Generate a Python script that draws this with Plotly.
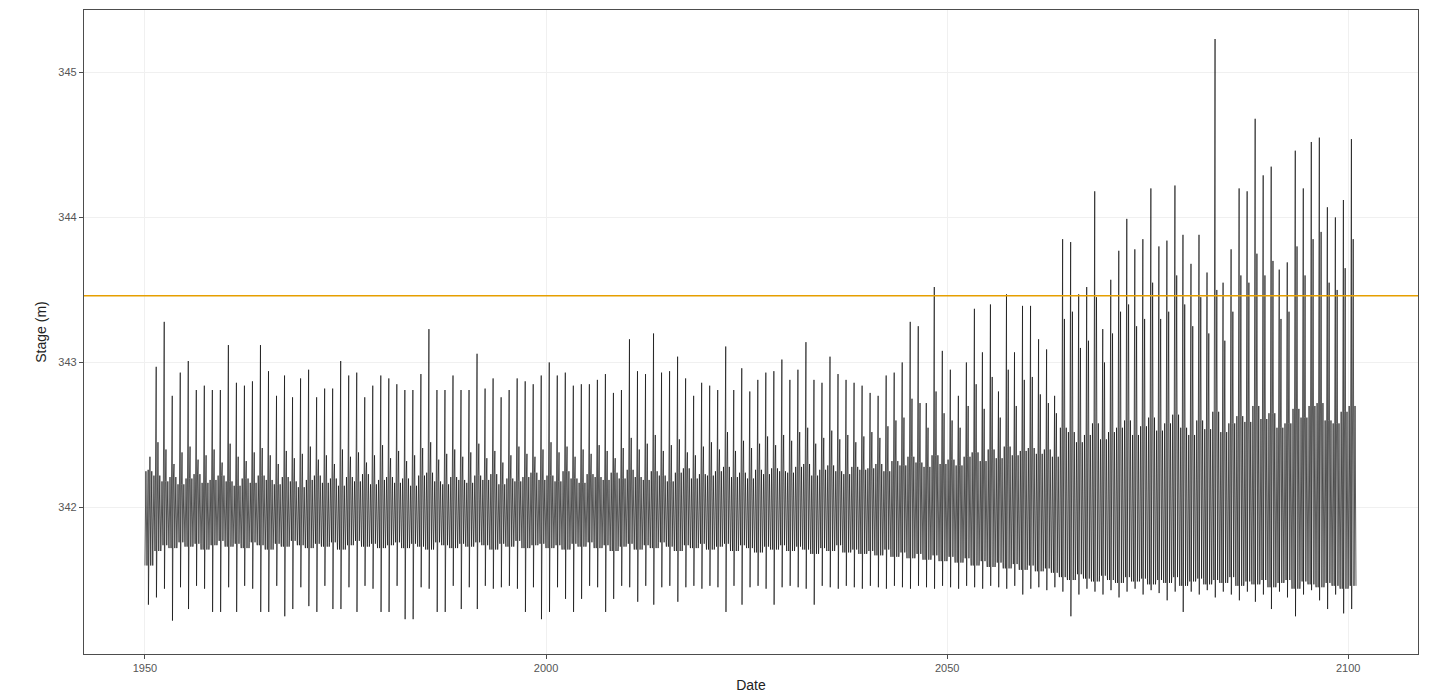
import plotly.graph_objects as go

# ---------------- data ----------------
years = list(range(1950, 2101))

# annual maximum stage (m)
peak = [
    342.26, 342.97, 343.28, 342.77, 342.93, 343.01, 342.81, 342.84, 342.81, 342.81,
    343.12, 342.86, 342.84, 342.87, 343.12, 342.94, 342.77, 342.91, 342.76, 342.89,
    342.95, 342.76, 342.82, 342.82, 343.01, 342.91, 342.93, 342.76, 342.84, 342.91,
    342.89, 342.85, 342.81, 342.81, 342.92, 343.23, 342.81, 342.81, 342.91, 342.81,
    342.81, 343.06, 342.82, 342.89, 342.76, 342.81, 342.89, 342.87, 342.85, 342.91,
    343.00, 342.91, 342.93, 342.84, 342.85, 342.85, 342.88, 342.92, 342.79, 342.81,
    343.16, 342.94, 342.92, 343.20, 342.93, 342.94, 343.04, 342.89, 342.77, 342.86,
    342.84, 342.81, 343.11, 342.81, 342.96, 342.80, 342.88, 342.93, 342.94, 343.02,
    342.88, 342.95, 343.14, 342.88, 342.86, 343.04, 342.92, 342.88, 342.86, 342.84,
    342.79, 342.77, 342.91, 342.93, 343.00, 343.28, 343.25, 342.72, 343.52, 343.08,
    342.95, 342.77, 343.00, 343.37, 343.07, 343.40, 342.80, 343.47, 343.07, 343.39,
    343.39, 343.16, 343.09, 342.77, 343.85, 343.83, 343.47, 343.52, 344.18, 343.23,
    343.57, 343.77, 343.99, 343.78, 343.85, 344.20, 343.80, 343.84, 344.22, 343.88,
    343.68, 343.88, 343.62, 345.23, 343.55, 343.78, 344.20, 344.18, 344.68, 344.29,
    344.35, 343.64, 343.69, 344.46, 344.20, 344.52, 344.55, 344.07, 344.00, 344.12,
    344.54,
]

# secondary (smaller) high of each year (m)
second_peak = [
    342.35, 342.45, 342.40, 342.30, 342.38, 342.42, 342.33, 342.36, 342.40, 342.31,
    342.44, 342.35, 342.32, 342.38, 342.41, 342.36, 342.30, 342.39, 342.34, 342.37,
    342.42, 342.33, 342.36, 342.30, 342.40, 342.35, 342.38, 342.31, 342.36, 342.43,
    342.34, 342.39, 342.32, 342.36, 342.41, 342.45, 342.33, 342.37, 342.40, 342.35,
    342.38, 342.44, 342.34, 342.39, 342.31, 342.36, 342.42, 342.37, 342.35, 342.40,
    342.45, 342.38, 342.42, 342.35, 342.40, 342.37, 342.43, 342.39, 342.34, 342.41,
    342.48, 342.40, 342.44, 342.50, 342.39, 342.43, 342.47, 342.38, 342.36, 342.42,
    342.45, 342.40, 342.52, 342.39, 342.46, 342.41, 342.44, 342.49, 342.43, 342.50,
    342.46, 342.52, 342.55, 342.44, 342.48, 342.53, 342.47, 342.50, 342.45, 342.49,
    342.52, 342.48, 342.56, 342.60, 342.62, 342.75, 342.72, 342.55, 342.80, 342.65,
    342.60, 342.55, 342.70, 342.85, 342.68, 342.90, 342.62, 342.95, 342.70, 342.88,
    342.90, 342.78, 342.72, 342.65, 343.30, 343.35, 343.10, 343.15, 343.45, 343.00,
    343.20, 343.35, 343.40, 343.25, 343.30, 343.55, 343.30, 343.35, 343.60, 343.40,
    343.25, 343.45, 343.20, 343.50, 343.15, 343.35, 343.60, 343.55, 343.75, 343.60,
    343.70, 343.30, 343.35, 343.80, 343.60, 343.85, 343.90, 343.55, 343.50, 343.65,
    343.85,
]

# annual minimum stage (m)
trough = [
    341.33, 341.38, 341.44, 341.22, 341.45, 341.30, 341.46, 341.44, 341.28, 341.28,
    341.45, 341.28, 341.46, 341.44, 341.28, 341.28, 341.46, 341.25, 341.30, 341.45,
    341.32, 341.28, 341.46, 341.30, 341.30, 341.45, 341.28, 341.46, 341.44, 341.28,
    341.28, 341.46, 341.23, 341.23, 341.45, 341.44, 341.28, 341.28, 341.46, 341.30,
    341.45, 341.30, 341.46, 341.44, 341.45, 341.46, 341.44, 341.28, 341.45, 341.23,
    341.28, 341.45, 341.37, 341.28, 341.37, 341.46, 341.45, 341.28, 341.37, 341.46,
    341.45, 341.35, 341.46, 341.33, 341.45, 341.46, 341.35, 341.45, 341.46, 341.44,
    341.46, 341.45, 341.28, 341.46, 341.33, 341.45, 341.46, 341.44, 341.33, 341.45,
    341.46, 341.45, 341.44, 341.33, 341.46, 341.45, 341.44, 341.46, 341.45, 341.44,
    341.46, 341.45, 341.44, 341.46, 341.45, 341.44, 341.46, 341.45, 341.44, 341.46,
    341.45, 341.44, 341.46, 341.45, 341.44, 341.46, 341.45, 341.44, 341.46, 341.40,
    341.44, 341.45, 341.43, 341.45, 341.42, 341.25, 341.40, 341.44, 341.42, 341.40,
    341.43, 341.38, 341.42, 341.44, 341.40, 341.43, 341.41, 341.36, 341.42, 341.28,
    341.42, 341.40, 341.43, 341.38, 341.42, 341.40, 341.36, 341.42, 341.35, 341.40,
    341.30, 341.42, 341.38, 341.25, 341.40, 341.43, 341.36, 341.30, 341.40, 341.27,
    341.30,
]

# upper edge of the everyday band, per year (m)
band_top = [
    342.25, 342.22, 342.18, 342.21, 342.16, 342.20, 342.23, 342.17, 342.19, 342.22,
    342.18, 342.15, 342.20, 342.17, 342.22, 342.19, 342.16, 342.21, 342.18, 342.14,
    342.19, 342.22, 342.17, 342.20, 342.15, 342.21, 342.18, 342.23, 342.16, 342.19,
    342.21, 342.17, 342.20, 342.15, 342.22, 342.24, 342.18, 342.16, 342.21, 342.19,
    342.17, 342.22, 342.19, 342.23, 342.16, 342.20, 342.18, 342.21, 342.24, 342.19,
    342.22, 342.18, 342.25, 342.20, 342.17, 342.23, 342.21, 342.19, 342.24, 342.20,
    342.26, 342.21, 342.19, 342.25, 342.22, 342.18, 342.24, 342.27, 342.20, 342.23,
    342.22, 342.25, 342.28, 342.21, 342.24, 342.20, 342.26, 342.23, 342.27, 342.25,
    342.24, 342.28, 342.30, 342.22, 342.26, 342.29, 342.25, 342.23, 342.28, 342.26,
    342.27, 342.30, 342.25, 342.32, 342.29, 342.35, 342.31, 342.28, 342.36, 342.30,
    342.33, 342.29, 342.35, 342.38, 342.32, 342.40, 342.34, 342.42, 342.36, 342.39,
    342.41, 342.37, 342.40, 342.35, 342.55, 342.52, 342.45, 342.50, 342.58, 342.47,
    342.52, 342.55, 342.60, 342.50, 342.56, 342.62, 342.53, 342.58, 342.64, 342.55,
    342.50, 342.60, 342.54, 342.66, 342.52, 342.58, 342.63, 342.59, 342.70, 342.61,
    342.65, 342.55, 342.58, 342.68, 342.62, 342.70, 342.72, 342.60, 342.58, 342.66,
    342.70,
]

# lower edge of the everyday band, per year (m)
band_bottom = [
    341.60, 341.70, 341.74, 341.72, 341.76, 341.73, 341.75, 341.71, 341.74, 341.77,
    341.73, 341.75, 341.72, 341.76, 341.74, 341.71, 341.75, 341.73, 341.77, 341.74,
    341.72, 341.75, 341.73, 341.76, 341.71, 341.74, 341.77, 341.73, 341.75, 341.72,
    341.74, 341.76, 341.72, 341.75, 341.73, 341.71, 341.76, 341.74, 341.72, 341.75,
    341.73, 341.76, 341.74, 341.71, 341.75, 341.73, 341.77, 341.72, 341.74, 341.75,
    341.72, 341.74, 341.71, 341.75, 341.73, 341.76, 341.72, 341.74, 341.70, 341.73,
    341.75, 341.71, 341.74, 341.72, 341.76, 341.73, 341.70, 341.74, 341.72, 341.75,
    341.71, 341.73, 341.75, 341.70, 341.74, 341.72, 341.69, 341.73, 341.71, 341.74,
    341.70, 341.73, 341.71, 341.68, 341.72, 341.70, 341.74, 341.69, 341.71, 341.68,
    341.70, 341.67, 341.71, 341.66, 341.69, 341.65, 341.68, 341.64, 341.67, 341.63,
    341.66, 341.62, 341.65, 341.60, 341.63, 341.59, 341.62, 341.58, 341.61, 341.57,
    341.60, 341.56, 341.58, 341.55, 341.52, 341.50, 341.54, 341.51, 341.49, 341.53,
    341.50, 341.48, 341.52, 341.49, 341.51, 341.47, 341.50, 341.48, 341.52, 341.46,
    341.49, 341.51, 341.47, 341.50, 341.48, 341.52, 341.46, 341.49, 341.47, 341.50,
    341.45, 341.48, 341.50, 341.44, 341.49, 341.47, 341.45, 341.48, 341.46, 341.44,
    341.46,
]

threshold = 343.46  # orange reference stage

x_ticks = [1950, 2000, 2050, 2100]
y_ticks = [342, 343, 344, 345]

# ---------------- build the hydrograph path ----------------
pattern = [(0.00, "bottom"), (0.12, "top"), (0.25, "bottom"),
           (0.40, "peak"), (0.43, "trough"), (0.55, "top"),
           (0.62, "second"), (0.72, "bottom"), (0.85, "top"), (0.97, "bottom")]

xs, ys = [], []
for i, yr in enumerate(years):
    vals = {"top": band_top[i], "bottom": band_bottom[i],
            "second": second_peak[i], "peak": peak[i], "trough": trough[i]}
    for frac, key in pattern:
        xs.append(yr + frac)
        ys.append(vals[key])

X0, X1 = 1942.4, 2108.7
Y0, Y1 = 340.99, 345.43

fig = go.Figure()
fig.add_trace(go.Scatter(x=xs, y=ys, mode="lines",
                         line=dict(color="rgba(0,0,0,0.8)", width=0.8),
                         showlegend=False, hoverinfo="skip"))
fig.add_trace(go.Scatter(x=[X0, X1], y=[threshold, threshold], mode="lines",
                         line=dict(color="#E69F00", width=1.4),
                         showlegend=False, hoverinfo="skip"))

axis_common = dict(showgrid=True, gridcolor="#f0f0f0", gridwidth=0.6,
                   zeroline=False, showline=True, linecolor="#4d4d4d", linewidth=1.3,
                   mirror=True, ticks="outside", ticklen=4, tickcolor="#4d4d4d",
                   tickfont=dict(family="Liberation Sans, Arial", size=11, color="#555555"))

fig.update_layout(
    width=1433, height=689,
    margin=dict(l=76, r=23, t=2, b=43),
    paper_bgcolor="white", plot_bgcolor="white",
    xaxis=dict(range=[X0, X1], tickvals=x_ticks,
               ticktext=[str(v) for v in x_ticks],
               title=dict(text="Date", standoff=6,
                          font=dict(family="Liberation Sans, Arial", size=14, color="#222222")),
               **axis_common),
    yaxis=dict(range=[Y0, Y1], tickvals=y_ticks,
               ticktext=[str(v) for v in y_ticks],
               title=dict(text="Stage (m)", standoff=8,
                          font=dict(family="Liberation Sans, Arial", size=14, color="#222222")),
               **axis_common),
)

fig.write_html("out.html")
